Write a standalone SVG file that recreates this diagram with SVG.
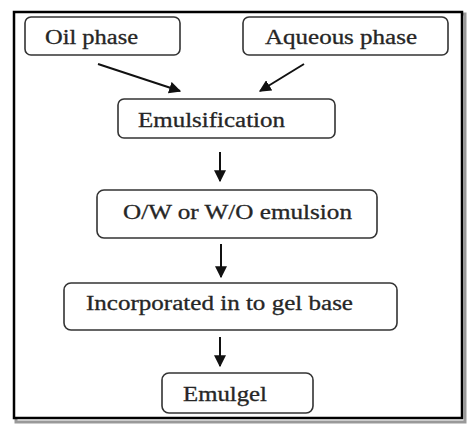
<svg xmlns="http://www.w3.org/2000/svg" width="476" height="430" viewBox="0 0 476 430">
<style>
.box{fill:#fff;stroke:#333;stroke-width:1.6}
.t{font-family:'Liberation Serif','Times New Roman',serif;font-size:20px;fill:#262626;stroke:#262626;stroke-width:0.3}
.c{stroke:#111;stroke-width:2;fill:none;marker-end:url(#ah)}
</style>
<defs>
<marker id="ah" viewBox="0 0 10 10" refX="9" refY="5" markerWidth="6" markerHeight="6" orient="auto" markerUnits="strokeWidth">
<path d="M0,0 L10,5 L0,10 Z" fill="#111"/>
</marker>
</defs>
<rect width="476" height="430" fill="#fff"/>
<rect x="16" y="14" width="449" height="408" fill="none" stroke="#999" stroke-width="3"/>
<rect x="14" y="12" width="448" height="406" fill="#fff" stroke="#000" stroke-width="2.5"/>
<g id="oil"><rect class="box" x="25" y="17" width="155" height="38" rx="6"/><text class="t" x="45" y="44" textLength="93" lengthAdjust="spacingAndGlyphs">Oil phase</text></g>
<g id="aqueous"><rect class="box" x="243" y="17" width="205" height="38" rx="6"/><text class="t" x="265" y="44" textLength="152" lengthAdjust="spacingAndGlyphs">Aqueous phase</text></g>
<g id="emulsification"><rect class="box" x="118" y="99" width="217" height="39" rx="6"/><text class="t" x="138" y="127" textLength="147" lengthAdjust="spacingAndGlyphs">Emulsification</text></g>
<g id="emulsion"><rect class="box" x="97" y="190" width="280" height="48" rx="7"/><text class="t" x="123" y="219" textLength="229" lengthAdjust="spacingAndGlyphs">O/W or W/O emulsion</text></g>
<g id="gelbase"><rect class="box" x="64" y="283" width="333" height="47" rx="7"/><text class="t" x="86" y="310" textLength="267" lengthAdjust="spacingAndGlyphs">Incorporated in to gel base</text></g>
<g id="emulgel"><rect class="box" x="162" y="373" width="151" height="40" rx="7"/><text class="t" x="183" y="401" textLength="84" lengthAdjust="spacingAndGlyphs">Emulgel</text></g>
<g id="connectors">
<line class="c" x1="98" y1="64" x2="180" y2="91"/>
<line class="c" x1="304" y1="64" x2="260" y2="91"/>
<line class="c" x1="220" y1="152" x2="220" y2="181"/>
<line class="c" x1="221" y1="244" x2="221" y2="277"/>
<line class="c" x1="220" y1="337" x2="220" y2="366"/>
</g>
</svg>
